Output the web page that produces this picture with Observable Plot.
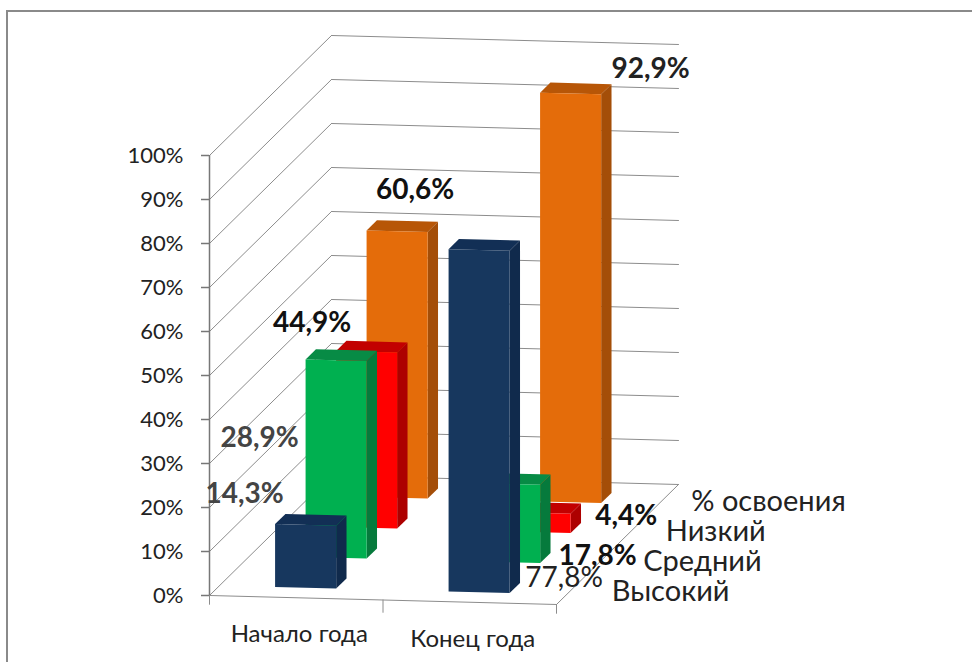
<!DOCTYPE html>
<html>
<head>
<meta charset="utf-8">
<script src="https://cdn.jsdelivr.net/npm/d3@7"></script>
<script src="https://cdn.jsdelivr.net/npm/@observablehq/plot@0.6"></script>
<style>
html,body{margin:0;padding:0;background:#fff;overflow:hidden}
#frame{position:absolute;left:6px;top:10px;right:-10px;bottom:-10px;border-left:2px solid #8a8a8a;border-top:2px solid #8a8a8a}
#chart{position:absolute;left:0;top:0}
svg{display:block;background:transparent}
</style>
</head>
<body>
<div id="frame"></div>
<div id="chart"></div>
<script>
// ---- data ----
const categories = ["Начало года", "Конец года"];
const seriesNames = ["Высокий", "Средний", "Низкий", "% освоения"];
const vysoky = [14.3, 77.8];
const sredny = [44.9, 17.8];
const nizky = [40, 4.4];       // bar drawn near 40 although labelled 28,9%
const osvoenie = [60.6, 92.9];
const vysokyLabels = ["14,3%", "77,8%"];
const srednyLabels = ["44,9%", "17,8%"];
const nizkyLabels = ["28,9%", "4,4%"];
const osvoenieLabels = ["60,6%", "92,9%"];
const yTicks = d3.range(0, 101, 10);

// ---- look and oblique projection ----
const pxU = 173.5, pxY = 4.4;         // pixels per category, per percent
const depthX = 30.5 / pxU;            // depth step on the x scale
const depthY = 30 / pxY;              // depth step on the y scale
const slopeY = -4.5 / pxY;            // front edge falls slightly to the right
const X = (u, v) => u + v * depthX;
const Y = (u, v, val) => val + v * depthY + u * slopeY;
const barU = 0.32, barW = 0.352, barV = 0.33, barD = 0.34;
const depthCount = 4, catCount = 2;

const palette = [
  {front: "#17375e", side: "#102a4c", top: "#122f55"},
  {front: "#00b050", side: "#067a3c", top: "#078b45"},
  {front: "#ff0000", side: "#ad0000", top: "#c20000"},
  {front: "#e46c0a", side: "#a44e08", top: "#b75607"}
];
const allValues = [vysoky, sredny, nizky, osvoenie];
const allLabels = [vysokyLabels, srednyLabels, nizkyLabels, osvoenieLabels];

// per-label nudges in pixels, [series][category]
const nudges = [
  [[-61, -31], [85, 328]],
  [[-24, -37], [88, 72.5]],
  [[-107, 86], [86, 3]],
  [[18, -41], [80, -25]]
];
const seriesNudge = [-1, 0, -8, -13];
const labelStyle = [
  [{fill: "#444", fontWeight: 700}, {fill: "#222", fontWeight: 400}],
  [{fill: "#111", fontWeight: 700}, {fill: "#111", fontWeight: 700}],
  [{fill: "#444", fontWeight: 700}, {fill: "#111", fontWeight: 700}],
  [{fill: "#111", fontWeight: 700}, {fill: "#222", fontWeight: 700}]
];

// bar faces, back to front
const faces = [];
for (let s = depthCount - 1; s >= 0; s--) {
  for (let c = 0; c < catCount; c++) {
    const val = allValues[s][c];
    const u0 = c + barU, u1 = u0 + barW, v0 = s + barV, v1 = v0 + barD;
    const add = (name, color, pts) => pts.forEach(([u, v, h]) =>
      faces.push({id: `${s}-${c}-${name}`, color, x: X(u, v), y: Y(u, v, h)}));
    add("top", palette[s].top, [[u0, v0, val], [u1, v0, val], [u1, v1, val], [u0, v1, val]]);
    add("side", palette[s].side, [[u1, v0, 0], [u1, v1, 0], [u1, v1, val], [u1, v0, val]]);
    add("front", palette[s].front, [[u0, v0, 0], [u1, v0, 0], [u1, v0, val], [u0, v0, val]]);
  }
}

// walls and floor
const grid = [];
const seg = (id, a, b) => {
  grid.push({id, x: X(a[0], a[1]), y: Y(...a)});
  grid.push({id, x: X(b[0], b[1]), y: Y(...b)});
};
for (const t of yTicks) {
  seg(`l${t}`, [0, 0, t], [0, depthCount, t]);
  seg(`b${t}`, [0, depthCount, t], [catCount, depthCount, t]);
}
seg("f", [0, 0, 0], [catCount, 0, 0]);
seg("r", [catCount, 0, 0], [catCount, depthCount, 0]);
for (const c of [0, 1, 2]) seg(`t${c}`, [c, 0, 0], [c, 0, -(c === 1 ? 2.8 : 2)]);

const labels = [];
allLabels.forEach((row, s) => row.forEach((text, c) => {
  const [dx, dy] = nudges[s][c];
  const u = c + barU + barW / 2, v = s + barV;
  labels.push({text, x: X(u, v) + dx / pxU, y: Y(u, v, allValues[s][c]) - dy / pxY, ...labelStyle[s][c]});
}));

const font = "Lato, 'Open Sans', sans-serif";
const chart = Plot.plot({
  width: 972, height: 662,
  marginLeft: 209, marginRight: 416, marginTop: 155, marginBottom: 67,
  style: {fontFamily: font, background: "transparent"},
  x: {domain: [0, catCount], axis: null},
  y: {domain: [0, 100]},
  color: {type: "identity"},
  marks: [
    Plot.axisY({ticks: yTicks, tickFormat: d => d + "%", tickSize: 8, tickPadding: 18, fontSize: 22, label: null, stroke: "#777", fill: "#222", strokeOpacity: 1, strokeWidth: 1.5}),
    Plot.line(grid, {x: "x", y: "y", z: "id", stroke: "#8c8c8c", strokeWidth: 1}),
    Plot.ruleX([0], {y1: 0, y2: 100, stroke: "#777", strokeWidth: 1.5}),
    Plot.line(faces, {x: "x", y: "y", z: "id", fill: "color", stroke: "none"}),
    Plot.text(categories, {
      x: (d, i) => i + 0.5, y: (d, i) => Y(i + 0.5, 0, -8.4), text: d => d,
      fontSize: 24, fill: "#222", dx: 3
    }),
    Plot.text(seriesNames, {
      x: (d, i) => X(catCount, i + 0.5) + seriesNudge[i] / pxU, y: (d, i) => Y(catCount, i + 0.5, 0), text: d => d,
      dx: 41, dy: 2, textAnchor: "start", fontSize: 29, fill: "#222"
    }),
    ...[400, 700].map(w => Plot.text(labels.filter(d => d.fontWeight === w), {
      x: "x", y: "y", text: "text", fill: "fill", fontWeight: w, fontSize: 28
    }))
  ]
});
document.getElementById("chart").appendChild(chart);
</script>
</body>
</html>
